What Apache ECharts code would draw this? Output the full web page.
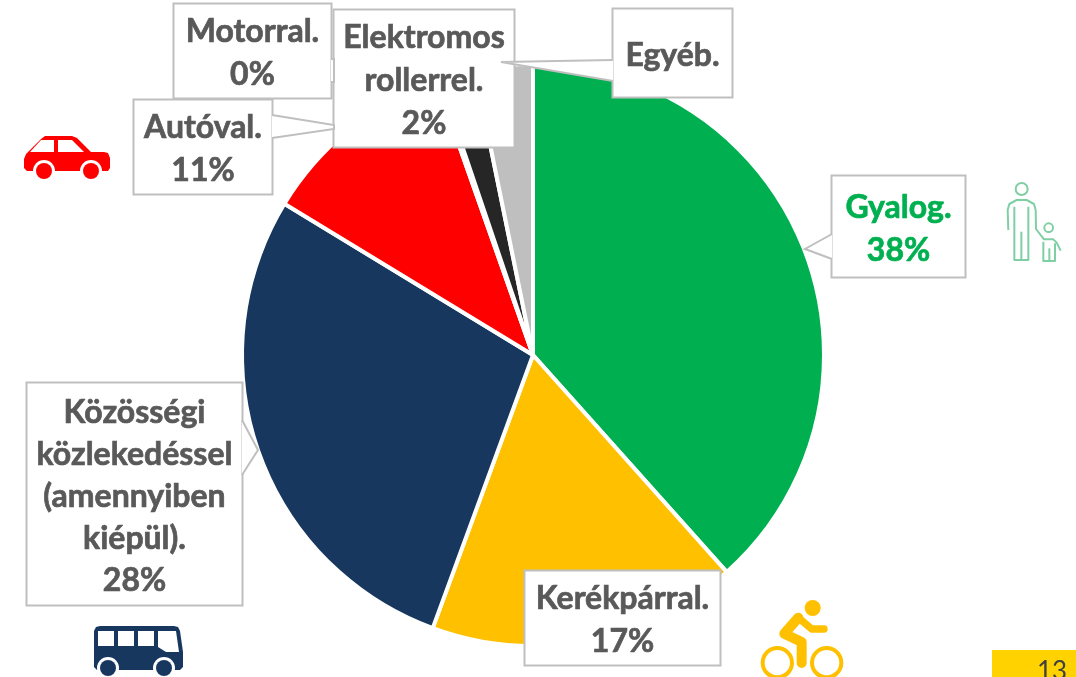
<!DOCTYPE html>
<html>
<head>
<meta charset="utf-8">
<style>
  html, body { margin: 0; padding: 0; background: #fff; overflow: hidden; }
  #main { width: 1076px; height: 677px; }
</style>
<script src="https://cdn.jsdelivr.net/npm/echarts@6/dist/echarts.min.js"></script>
</head>
<body>
<div id="main"></div>
<script>
const categories = ['Gyalog.', 'Kerékpárral.', 'Közösségi\nközlekedéssel\n(amennyiben\nkiépül).', 'Autóval.', 'Motorral.', 'Elektromos\nrollerrel.', 'Egyéb.'];
const shares = [38.4, 17.2, 28.1, 10.9, 0.2, 2.0, 3.2];
const percentLabels = ['38%', '17%', '28%', '11%', '0%', '2%', ''];
const sliceColors = ['#00B050', '#FFC000', '#17375E', '#FF0000', '#7F7F7F', '#262626', '#BFBFBF'];

// callout boxes: left, top, right, bottom
const boxes = [
  [832, 176, 965, 276],
  [525, 571, 720, 664],
  [27, 383, 242, 604],
  [134, 100, 272, 193],
  [174, 4, 331, 97],
  [334, 10, 514, 146],
  [613, 9, 732, 96]
];
// callout tails: base start, tip, base end
const tails = [
  [[832, 234], [805, 249], [832, 259]],
  [[242, 420], [258, 450], [242, 475]],
  [[272, 115], [334, 125], [334, 129], [272, 138]],
  [[331, 59], [334, 59], [334, 82], [331, 82]],
  [[613, 60], [501, 62], [613, 81]]
];

const lineHeight = 43;
const grey = '#BFBFBF';

function tailElements() {
  let out = [];
  tails.forEach((t) => {
    out.push({ type: 'polygon', z: 5, shape: { points: t }, style: { fill: '#fff' } });
    out.push({ type: 'polyline', z: 5, shape: { points: t }, style: { fill: null, stroke: grey, lineWidth: 2 } });
  });
  return out;
}

function icon(x, y, children) {
  return { type: 'group', x: x, y: y, scaleX: 1 / 3, scaleY: 1 / 3, z: 1, children: children };
}

const car = { type: 'group', z: 1, children: [
  { type: 'polygon', shape: { points: [[24, 159], [26, 154], [41, 139], [45, 136], [72, 136], [77, 138], [91, 152], [104, 152], [108, 153], [110, 158], [110, 168], [108, 171], [27, 171], [24, 168]] }, style: { fill: '#FF0000' } },
  { type: 'polygon', shape: { points: [[30, 152], [41, 140], [54, 140], [54, 152]] }, style: { fill: '#fff' } },
  { type: 'polygon', shape: { points: [[58, 140], [72, 140], [84, 152], [58, 152]] }, style: { fill: '#fff' } },
  { type: 'circle', shape: { cx: 44, cy: 171, r: 11 }, style: { fill: '#fff' } },
  { type: 'circle', shape: { cx: 91, cy: 171, r: 11 }, style: { fill: '#fff' } },
  { type: 'circle', shape: { cx: 44, cy: 171, r: 8 }, style: { fill: '#FF0000' } },
  { type: 'circle', shape: { cx: 91, cy: 171, r: 8 }, style: { fill: '#FF0000' } }
] };

const bus = { type: 'group', z: 1, children: [
  { type: 'polygon', shape: { points: [[94, 631], [96, 627], [100, 626], [174, 626], [178, 627], [180, 631], [183, 652], [183, 667], [180, 670], [97, 670], [94, 667]] }, style: { fill: '#17375E' } },
  { type: 'rect', shape: { x: 98, y: 631, width: 16, height: 15 }, style: { fill: '#fff' } },
  { type: 'rect', shape: { x: 118, y: 631, width: 16, height: 15 }, style: { fill: '#fff' } },
  { type: 'rect', shape: { x: 138, y: 631, width: 16, height: 15 }, style: { fill: '#fff' } },
  { type: 'polygon', shape: { points: [[158, 631], [176, 631], [179, 652], [166, 652], [158, 647]] }, style: { fill: '#fff' } },
  { type: 'circle', shape: { cx: 108, cy: 668, r: 11 }, style: { fill: '#fff' } },
  { type: 'circle', shape: { cx: 164, cy: 668, r: 11 }, style: { fill: '#fff' } },
  { type: 'circle', shape: { cx: 108, cy: 668, r: 8 }, style: { fill: '#17375E' } },
  { type: 'circle', shape: { cx: 164, cy: 668, r: 8 }, style: { fill: '#17375E' } }
] };

const walkerStroke = { fill: null, stroke: '#7FCFA5', lineWidth: 6, lineJoin: 'round' };
const walker = icon(740, 160, [
  { type: 'circle', shape: { cx: 845, cy: 87, r: 18 }, style: walkerStroke },
  { type: 'polyline', shape: { points: [[805, 210], [803, 150], [808, 132], [830, 120], [860, 120], [882, 132], [887, 150], [888, 207], [912, 238], [940, 238], [950, 248], [962, 272]] }, style: walkerStroke },
  { type: 'polyline', shape: { points: [[823, 140], [823, 300], [865, 300], [865, 140]] }, style: walkerStroke },
  { type: 'polyline', shape: { points: [[844, 215], [844, 300]] }, style: walkerStroke },
  { type: 'circle', shape: { cx: 926, cy: 203, r: 13 }, style: walkerStroke },
  { type: 'polyline', shape: { points: [[910, 245], [910, 303], [945, 303], [945, 250]] }, style: walkerStroke },
  { type: 'polyline', shape: { points: [[928, 265], [928, 303]] }, style: walkerStroke }
]);

const cyclist = icon(740, 577, [
  { type: 'circle', shape: { cx: 218, cy: 93, r: 24 }, style: { fill: '#FFC000' } },
  { type: 'polyline', shape: { points: [[175, 122], [133, 170], [185, 195], [185, 258]] }, style: { fill: null, stroke: '#FFC000', lineWidth: 30, lineCap: 'round', lineJoin: 'round' } },
  { type: 'polyline', shape: { points: [[175, 122], [215, 156], [252, 156]] }, style: { fill: null, stroke: '#FFC000', lineWidth: 22, lineCap: 'round', lineJoin: 'round' } },
  { type: 'circle', shape: { cx: 112, cy: 257, r: 44 }, style: { fill: null, stroke: '#FFC000', lineWidth: 12 } },
  { type: 'circle', shape: { cx: 260, cy: 257, r: 44 }, style: { fill: null, stroke: '#FFC000', lineWidth: 12 } }
]);

const pageBadge = { type: 'group', z: 1, children: [
  { type: 'rect', shape: { x: 992, y: 650, width: 84, height: 27 }, style: { fill: '#FFD200' } },
  { type: 'text', x: 1052, y: 685, style: { text: '13', fill: '#404040', font: '26px Lato', align: 'center', verticalAlign: 'bottom' } }
] };

let seriesData = categories.map((name, i) => {
  let b = boxes[i];
  let lines = name.split('\n').length + (percentLabels[i] ? 1 : 0);
  let lh = lines === 5 ? 42 : lineHeight;
  let pad = (b[3] - b[1] - lines * lh) / 2;
  let color = i === 0 ? '#00B050' : '#595959';
  return {
    name: name,
    value: shares[i],
    itemStyle: { color: sliceColors[i] },
    label: {
      color: color,
      textBorderColor: color,
      textBorderWidth: 0.7,
      width: b[2] - b[0] - 1,
      lineHeight: lh,
      // text sits a little under the box centre in the reference
      padding: [pad + 2.5, 0, pad - 2.5, 0]
    }
  };
});

let myChart = echarts.init(document.getElementById('main'), null, { renderer: 'canvas' });
myChart.setOption({
  animation: false,
  backgroundColor: '#fff',
  series: [{
    type: 'pie',
    center: [533, 355],
    radius: [0, 291],
    startAngle: 90,
    clockwise: true,
    minAngle: 0,
    avoidLabelOverlap: false,
    silent: true,
    data: seriesData,
    itemStyle: { borderColor: '#fff', borderWidth: 4 },
    label: {
      show: true,
      position: 'outside',
      fontFamily: 'Lato',
      fontWeight: 'bold',
      fontSize: 32,
      align: 'center',
      backgroundColor: '#fff',
      borderColor: grey,
      borderWidth: 2,
      formatter: function (p) {
        let pct = percentLabels[p.dataIndex];
        return pct ? p.name + '\n' + pct : p.name;
      }
    },
    labelLine: { show: false },
    labelLayout: function (p) {
      let b = boxes[p.dataIndex];
      return { x: (b[0] + b[2]) / 2, y: b[1] + 0.5, align: 'center', verticalAlign: 'top' };
    }
  }],
  graphic: { elements: tailElements().concat([car, bus, walker, cyclist, pageBadge]) }
});
</script>
</body>
</html>
